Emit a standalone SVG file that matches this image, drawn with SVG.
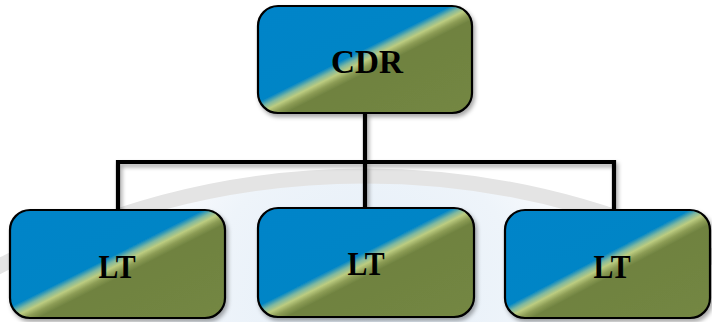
<svg xmlns="http://www.w3.org/2000/svg" width="712" height="322" viewBox="0 0 712 322">
<defs>
<linearGradient id="g" x1="0" y1="0" x2="1" y2="1">
<stop offset="0" stop-color="#0084c9"/>
<stop offset="0.45" stop-color="#0085c6"/>
<stop offset="0.48" stop-color="#7fb8a0"/>
<stop offset="0.505" stop-color="#bccc80"/>
<stop offset="0.535" stop-color="#8c9c55"/>
<stop offset="0.565" stop-color="#6f8240"/>
<stop offset="1" stop-color="#748743"/>
</linearGradient>
<radialGradient id="wm" cx="365" cy="300" r="260" gradientUnits="userSpaceOnUse">
<stop offset="0" stop-color="#e4eef8"/>
<stop offset="0.6" stop-color="#eef4fa"/>
<stop offset="1" stop-color="#ffffff"/>
</radialGradient>
<filter id="sh" x="-10%" y="-10%" width="125%" height="130%">
<feDropShadow dx="2" dy="3" stdDeviation="2" flood-color="#000" flood-opacity="0.35"/>
</filter>
<style>
.box{fill:url(#g);stroke:#000;stroke-width:2.2;filter:url(#sh)}
.lbl{font-family:"Liberation Serif","Times New Roman",serif;font-weight:bold;font-size:33px;fill:#000;text-anchor:middle}
.con{fill:none;stroke:#000;stroke-width:4.2;filter:url(#sh)}
</style>
</defs>
<g id="watermark">
<circle cx="365" cy="962" r="786" fill="url(#wm)" stroke="#e4e4e4" stroke-width="15"/>
</g>
<g id="connectors">
<path class="con" d="M365,113 V162 M118,210 V162 H614 V210 M365,162 V208"/>
</g>
<g id="node-cdr">
<rect class="box" x="258" y="6" width="214" height="107" rx="20"/>
<text class="lbl" x="367" y="73" textLength="72" lengthAdjust="spacingAndGlyphs">CDR</text>
</g>
<g id="node-lt1">
<rect class="box" x="10" y="210" width="215" height="108" rx="20"/>
<text class="lbl" x="117" y="278" textLength="37" lengthAdjust="spacingAndGlyphs">LT</text>
</g>
<g id="node-lt2">
<rect class="box" x="258" y="208" width="216" height="109" rx="20"/>
<text class="lbl" x="366" y="275" textLength="37" lengthAdjust="spacingAndGlyphs">LT</text>
</g>
<g id="node-lt3">
<rect class="box" x="505" y="210" width="205" height="108" rx="20"/>
<text class="lbl" x="612" y="278" textLength="37" lengthAdjust="spacingAndGlyphs">LT</text>
</g>
</svg>
